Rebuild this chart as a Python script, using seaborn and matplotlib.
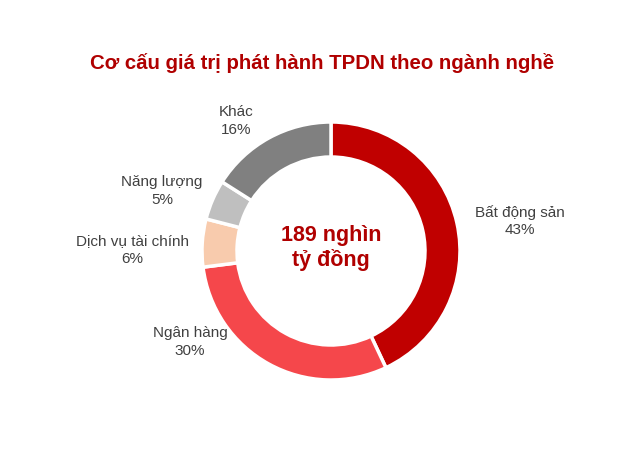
import numpy as np
import pandas as pd
import seaborn as sns
import matplotlib
matplotlib.use("Agg")
import matplotlib.pyplot as plt

# Data
sectors = ["Bất động sản", "Ngân hàng", "Dịch vụ tài chính", "Năng lượng", "Khác"]
shares = [43, 30, 6, 5, 16]
colors = ["#C00000", "#F5474B", "#F8CBAD", "#BFBFBF", "#808080"]
title = "Cơ cấu giá trị phát hành TPDN theo ngành nghề"
center_text = "189 nghìn\ntỷ đồng"

df = pd.DataFrame({"sector": sectors, "share": shares})

sns.set_theme(style="white")
plt.rcParams["font.family"] = ["Liberation Sans", "DejaVu Sans"]

W, H = 630, 467
fig = plt.figure(figsize=(W / 100, H / 100), dpi=100)
ax = fig.add_axes([0, 0, 1, 1])
ax.axis("off")

def py(y):
    # convert pixel row to data y
    return H - y

cx, cy, r = 331, 251, 129
ax.pie(df["share"], colors=colors, startangle=90, counterclock=False,
       center=(cx, py(cy)), radius=r,
       wedgeprops=dict(width=35, edgecolor="white", linewidth=2.5))
ax.set_xlim(0, W)
ax.set_ylim(0, H)
ax.set_aspect("equal")

# label positions (pixel coords)
label_pos = [(520, 221), (190, 342), (132, 250), (162, 191), (236, 121)]
for (lx, ly), name, s in zip(label_pos, df["sector"], df["share"]):
    ax.text(lx, py(ly), f"{name}\n{s}%", ha="center", va="center",
            fontsize=11, color="#404040", linespacing=1.3)

ax.text(cx, py(248), center_text, ha="center", va="center", fontsize=15.5,
        fontweight="bold", color="#B00000", linespacing=1.2)

ax.text(322, py(63), title, ha="center", va="center", fontsize=14.7,
        fontweight="bold", color="#B00000")

fig.savefig("out.png", dpi=100, facecolor="white")
